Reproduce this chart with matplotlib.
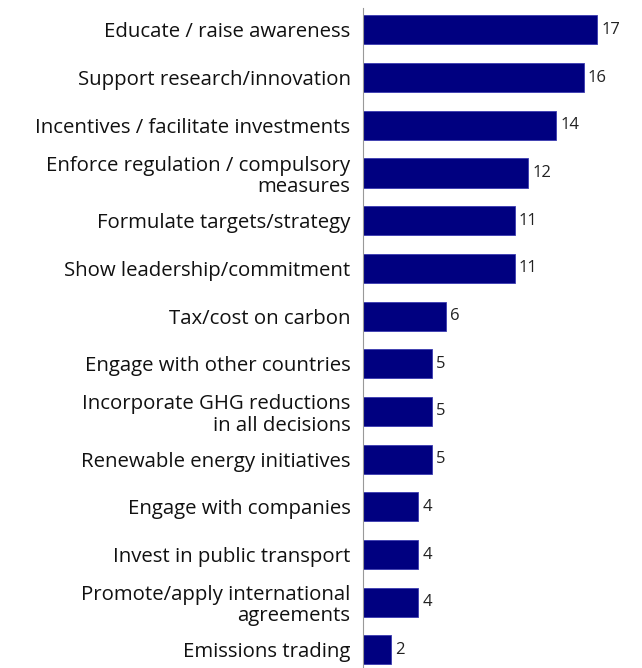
import matplotlib.pyplot as plt

labels = [
    "Educate / raise awareness",
    "Support research/innovation",
    "Incentives / facilitate investments",
    "Enforce regulation / compulsory\nmeasures",
    "Formulate targets/strategy",
    "Show leadership/commitment",
    "Tax/cost on carbon",
    "Engage with other countries",
    "Incorporate GHG reductions\nin all decisions",
    "Renewable energy initiatives",
    "Engage with companies",
    "Invest in public transport",
    "Promote/apply international\nagreements",
    "Emissions trading",
]
values = [17, 16, 14, 12, 11, 11, 6, 5, 5, 5, 4, 4, 4, 2]

plt.rcParams['font.family'] = ['Open Sans', 'DejaVu Sans']

fig = plt.figure(figsize=(6.42, 6.68), dpi=100)
ax = fig.add_axes([363 / 642, 0, 1 - 363 / 642 - 0.005, 1 - 8 / 668])

pos = list(range(len(values)))
ax.barh(pos, values, height=0.61, color='#000080', edgecolor='#3a3ab0', linewidth=0.6)

for p, v in zip(pos, values):
    ax.text(v + 0.3, p, str(v), va='center', ha='left', fontsize=12, color='#222222')

ax.set_yticks(pos)
ax.set_yticklabels(labels, fontsize=14.7, color='#111111', ha='right', linespacing=1.12)
ax.tick_params(axis='y', length=0, pad=9)
ax.set_xticks([])
ax.set_xlim(0, 20)
ax.set_ylim(13.38, -0.46)

for s in ['top', 'right', 'bottom']:
    ax.spines[s].set_visible(False)
ax.spines['left'].set_color('#999999')
ax.spines['left'].set_linewidth(0.8)

fig.savefig('out.png', dpi=100)
